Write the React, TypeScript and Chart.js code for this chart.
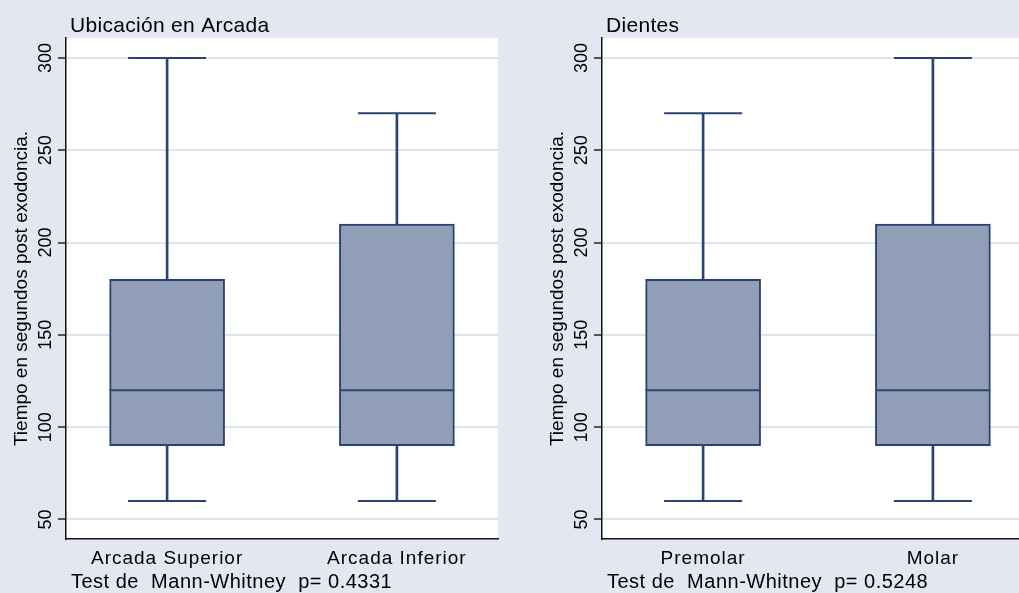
import React, { useEffect, useRef } from 'react';
import { Chart, registerables } from 'chart.js';

Chart.register(...registerables);

// ---- data ----
const arcadaCategories = ['Arcada Superior', 'Arcada Inferior'];
const arcadaMin = [60, 60];
const arcadaQ1 = [90, 90];
const arcadaMedian = [120, 120];
const arcadaQ3 = [180, 210];
const arcadaMax = [300, 270];

const dientesCategories = ['Premolar', 'Molar'];
const dientesMin = [60, 60];
const dientesQ1 = [90, 90];
const dientesMedian = [120, 120];
const dientesQ3 = [180, 210];
const dientesMax = [270, 300];

const yTicks = [50, 100, 150, 200, 250, 300];
const yAxisTitle = 'Tiempo en segundos post exodoncia.';
const arcadaTitle = 'Ubicación en Arcada';
const dientesTitle = 'Dientes';
const arcadaNote = 'Test de  Mann-Whitney  p= 0.4331';
const dientesNote = 'Test de  Mann-Whitney  p= 0.5248';

// ---- styles ----
const FONT = "'Liberation Sans', Arial, Helvetica, sans-serif";
const NAVY = '#2A4373';
const FILL = '#929FB8';
const BG = '#E3E7F1';
const GRID = '#DEE4EE';
const PANEL_W = 536;
const PANEL_H = 593;

type PanelData = {
  title: string;
  note: string;
  categories: string[];
  min: number[];
  q1: number[];
  median: number[];
  q3: number[];
  max: number[];
};

const panels: PanelData[] = [
  { title: arcadaTitle, note: arcadaNote, categories: arcadaCategories, min: arcadaMin, q1: arcadaQ1, median: arcadaMedian, q3: arcadaQ3, max: arcadaMax },
  { title: dientesTitle, note: dientesNote, categories: dientesCategories, min: dientesMin, q1: dientesQ1, median: dientesMedian, q3: dientesQ3, max: dientesMax },
];

function buildConfig(p: PanelData): any {
  const xs = p.categories.map((_, i) => i + 1);

  const plotBg = {
    id: 'plotBg',
    beforeDraw(chart: any) {
      const { ctx, chartArea: a } = chart;
      ctx.save();
      ctx.fillStyle = '#FFFFFF';
      ctx.fillRect(a.left, a.top, a.right - a.left, a.bottom - a.top);
      ctx.restore();
    },
  };

  const texts = {
    id: 'texts',
    afterDraw(chart: any) {
      const { ctx, chartArea: a, scales } = chart;
      ctx.save();
      ctx.fillStyle = '#000';

      // title
      ctx.font = `21px ${FONT}`;
      ctx.textAlign = 'left';
      ctx.textBaseline = 'alphabetic';
      (ctx as any).letterSpacing = '0.3px';
      ctx.fillText(p.title, a.left + 4, 32);

      // category labels
      ctx.font = `19px ${FONT}`;
      (ctx as any).letterSpacing = '1px';
      ctx.textAlign = 'center';
      p.categories.forEach((c, i) => {
        ctx.fillText(c, scales.x.getPixelForValue(xs[i]), 564);
      });

      // note
      ctx.font = `20px ${FONT}`;
      (ctx as any).letterSpacing = '0.5px';
      ctx.textAlign = 'left';
      ctx.fillText(p.note, a.left + 5, 588);

      // y tick labels (rotated)
      (ctx as any).letterSpacing = '0px';
      ctx.font = `18px ${FONT}`;
      ctx.textAlign = 'center';
      scales.y.ticks.forEach((t: any) => {
        const y = scales.y.getPixelForValue(t.value);
        ctx.save();
        ctx.translate(51, y);
        ctx.rotate(-Math.PI / 2);
        ctx.fillText(String(t.value), 0, 0);
        ctx.restore();
      });

      // y axis title
      ctx.font = `19px ${FONT}`;
      ctx.save();
      ctx.translate(27, (a.top + a.bottom) / 2);
      ctx.rotate(-Math.PI / 2);
      ctx.fillText(yAxisTitle, 0, 0);
      ctx.restore();

      ctx.restore();
    },
  };

  return {
    type: 'bar',
    data: {
      datasets: [
        {
          type: 'bar',
          data: xs.map((x, i) => ({ x, y: [p.min[i], p.max[i]] })),
          backgroundColor: NAVY,
          borderWidth: 0,
          barThickness: 2,
          grouped: false,
          order: 3,
        },
        {
          type: 'bar',
          data: xs.map((x, i) => ({ x, y: [p.q1[i], p.q3[i]] })),
          backgroundColor: FILL,
          borderColor: NAVY,
          borderWidth: 2,
          borderSkipped: false,
          barThickness: 115,
          grouped: false,
          order: 2,
        },
        {
          type: 'scatter',
          data: xs.map((x, i) => ({ x, y: p.median[i] })),
          pointStyle: 'line',
          pointRadius: 57.5,
          pointHoverRadius: 57.5,
          pointBorderWidth: 2,
          pointBorderColor: NAVY,
          order: 1,
        },
        {
          type: 'scatter',
          data: [
            ...xs.map((x, i) => ({ x, y: p.min[i] })),
            ...xs.map((x, i) => ({ x, y: p.max[i] })),
          ],
          pointStyle: 'line',
          pointRadius: 39,
          pointHoverRadius: 39,
          pointBorderWidth: 2,
          pointBorderColor: NAVY,
          order: 1,
        },
      ],
    },
    options: {
      animation: false,
      responsive: false,
      events: [],
      layout: { autoPadding: false, padding: { top: 38, right: 38, left: 0, bottom: 0 } },
      plugins: {
        legend: { display: false },
        tooltip: { enabled: false },
        title: { display: false },
      },
      scales: {
        x: {
          type: 'linear',
          offset: false,
          min: 0.56,
          max: 2.44,
          grid: { display: false, drawTicks: false, offset: false },
          ticks: { display: false },
          border: { display: true, color: '#111', width: 1.5 },
          afterFit: (s: any) => {
            s.height = 54;
          },
        },
        y: {
          type: 'linear',
          min: 39.4,
          max: 310.8,
          afterBuildTicks: (s: any) => {
            s.ticks = yTicks.map((v) => ({ value: v }));
          },
          ticks: { display: false },
          grid: {
            color: GRID,
            lineWidth: 2,
            drawTicks: true,
            tickLength: 8,
            tickColor: '#222',
            tickWidth: 1.5,
          },
          border: { display: true, color: '#111', width: 1.5 },
          afterFit: (s: any) => {
            s.width = 66;
          },
        },
      },
    },
    plugins: [plotBg, texts],
  };
}

function Panel({ panel, left }: { panel: PanelData; left: number }) {
  const ref = useRef<HTMLCanvasElement | null>(null);
  useEffect(() => {
    if (!ref.current) return;
    const chart = new Chart(ref.current, buildConfig(panel));
    return () => chart.destroy();
  }, [panel]);
  return (
    <canvas
      ref={ref}
      width={PANEL_W}
      height={PANEL_H}
      style={{ position: 'absolute', left, top: 0, width: PANEL_W, height: PANEL_H }}
    />
  );
}

export default function App() {
  return (
    <div
      style={{
        position: 'fixed',
        left: 0,
        top: 0,
        width: 1019,
        height: 593,
        overflow: 'hidden',
        background: BG,
      }}
    >
      <Panel panel={panels[0]} left={0} />
      <Panel panel={panels[1]} left={PANEL_W} />
    </div>
  );
}
